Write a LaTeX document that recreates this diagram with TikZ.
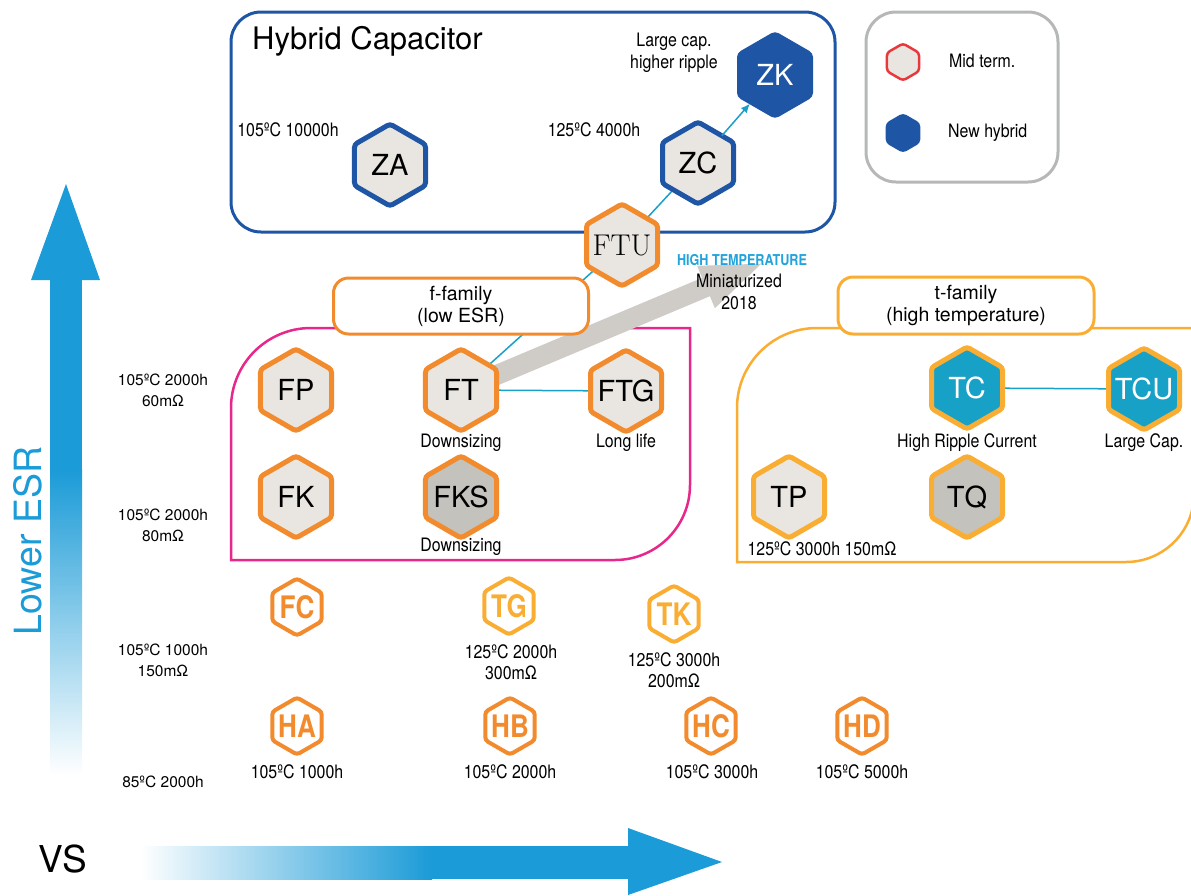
\documentclass[tikz,border=0pt]{standalone}
\usepackage{fontspec}
\usetikzlibrary{shapes.geometric,arrows.meta}
\newfontfamily\hv{TeX Gyre Heros}
\newfontfamily\hvc[FakeStretch=0.84]{TeX Gyre Heros}
\newfontfamily\hvcc[FakeStretch=0.86]{TeX Gyre Heros}
\definecolor{dkblue}{HTML}{1F55A5}
\definecolor{hexorange}{HTML}{F28B2D}
\definecolor{hexyellow}{HTML}{F9AE33}
\definecolor{hexfill}{HTML}{E9E6E1}
\definecolor{hexgray}{HTML}{C4C2BC}
\definecolor{tcfill}{HTML}{18A1C6}
\definecolor{arrowblue}{HTML}{1B9BD7}
\definecolor{linkblue}{HTML}{1A9FC9}
\definecolor{pinkbox}{HTML}{E8278A}
\definecolor{legendgray}{HTML}{B5B8B7}
\definecolor{bandgray}{HTML}{CFCCC7}
\definecolor{midred}{HTML}{E8383D}
\definecolor{hightemp}{HTML}{21A3DC}
\pgfdeclarelayer{bg}\pgfsetlayers{bg,main}
\tikzset{
  hexbase/.style={shape=regular polygon, regular polygon sides=6, regular polygon rotate=30,
    inner sep=0pt, outer sep=0pt, rounded corners=3pt},
  bighex/.style={hexbase, minimum size=82pt, line width=5pt, fill=hexfill},
  bigtext/.style={font=\hv\fontsize{29}{29}\selectfont, text=black},
  whitetext/.style={font=\hv\fontsize{29}{29}\selectfont, text=white},
  hexF/.style={bighex, draw=hexorange, label={[bigtext]center:#1}},
  hexFg/.style={bighex, draw=hexorange, fill=hexgray, label={[bigtext]center:#1}},
  hexT/.style={bighex, draw=hexyellow, label={[bigtext]center:#1}},
  hexTg/.style={bighex, draw=hexyellow, fill=hexgray, label={[bigtext]center:#1}},
  hexTc/.style={bighex, draw=hexyellow, fill=tcfill, label={[whitetext]center:#1}},
  hexZ/.style={bighex, draw=dkblue, label={[bigtext]center:#1}},
  hexZK/.style={bighex, draw=dkblue, fill=dkblue, label={[whitetext]center:#1}},
  hexFTU/.style={bighex, draw=hexorange, label={[font=\rmfamily\fontsize{30}{30}\selectfont]center:#1}},
  smallhex/.style={hexbase, minimum size=57pt, line width=4pt, fill=white},
  smallO/.style={smallhex, draw=hexorange, label={[font=\hvc\bfseries\fontsize{31}{31}\selectfont, text=hexorange]center:#1}},
  smallY/.style={smallhex, draw=hexyellow, label={[font=\hvc\bfseries\fontsize{31}{31}\selectfont, text=hexyellow]center:#1}},
  linkline/.style={draw=linkblue, line width=1.5pt},
  labelbox/.style={rectangle, rounded corners=15pt, minimum width=255pt, minimum height=56pt,
    fill=white, line width=3pt, align=center, font=\hv\fontsize{19.5}{22}\selectfont},
  cond/.style={font=\hvcc\fontsize{18.5}{21.5}\selectfont, align=center, inner sep=0pt},
  side/.style={font=\hv\fontsize{15.5}{21}\selectfont, align=center, inner sep=0pt},
}
\begin{document}
\begin{tikzpicture}[x=1pt,y=-1pt]
\useasboundingbox (0,0) rectangle (1191,895);

% ---- hexagons
\node[hexZ=ZA] (ZA) at (390,165) {};
\node[hexZ=ZC] (ZC) at (698,163) {};
\node[hexZK=ZK] (ZK) at (775,75) {};
\node[hexFTU=FTU] (FTU) at (622,245) {};
\node[hexF=FP] (FP) at (296,390) {};
\node[hexF=FT] (FT) at (461,390) {};
\node[hexF=FTG] (FTG) at (626,391) {};
\node[hexF=FK] (FK) at (296,497) {};
\node[hexFg=FKS] (FKS) at (461,497) {};
\node[hexTc=TC] (TC) at (967,388) {};
\node[hexTc=TCU] (TCU) at (1144,389) {};
\node[hexT=TP] (TP) at (789,497) {};
\node[hexTg=TQ] (TQ) at (967,497) {};
\node[smallO=FC] (FC) at (297,607) {};
\node[smallY=TG] (TG) at (509,606) {};
\node[smallY=TK] (TK) at (674,614) {};
\node[smallO=HA] (HA) at (297,726) {};
\node[smallO=HB] (HB) at (510,726) {};
\node[smallO=HC] (HC) at (711,726) {};
\node[smallO=HD] (HD) at (862,726) {};
\node[hexbase, minimum size=37pt, line width=2.5pt, draw=midred, fill=hexfill] (L1) at (903,62) {};
\node[hexbase, minimum size=37pt, line width=2.5pt, draw=dkblue, fill=dkblue] (L2) at (903,133) {};

\begin{pgfonlayer}{bg}
  % boxes
  \draw[dkblue, line width=3pt, rounded corners=30pt] (231,12) rectangle (835,232);
  \draw[legendgray, line width=3pt, rounded corners=30pt] (866,12) rectangle (1058,182);
  \draw[pinkbox, line width=2.5pt] (231,560) -- (231,408) arc[start angle=180, end angle=270, radius=80]
     -- (690,328) -- (690,485) arc[start angle=0, end angle=90, radius=75] -- cycle;
  \draw[hexyellow, line width=2.5pt] (737,562) -- (737,408) arc[start angle=180, end angle=270, radius=80]
     -- (1194,328) -- (1194,494) arc[start angle=0, end angle=90, radius=68] -- cycle;
  % links
  \draw[linkline] (FT) -- (FTU);
  \draw[linkline] (FTU) -- (ZC);
  \draw[linkline] (FT) -- (FTG);
  \draw[linkline] (TC) -- (TCU);
  % grey band
  \fill[bandgray] (457.1,380.8) -- (702.1,277.8) -- (697.1,265.8) -- (761.3,263.7)
     -- (714.9,308.2) -- (709.9,296.2) -- (464.9,399.2) -- cycle;
  % family labels
  \node[labelbox, draw=hexorange] (ffam) at (461,306) {f-family\\(low ESR)};
  \node[labelbox, draw=hexyellow, minimum width=256pt, minimum height=57pt] (tfam) at (966,305.5) {t-family\\(high temperature)};
\end{pgfonlayer}

\draw[linkline, -{Latex[length=9pt,width=8pt]}, shorten >=2pt] (ZC) -- (ZK);

% ---- axes arrows
\fill[arrowblue] (66,184) -- (100,280) -- (31,280) -- cycle;
\fill[arrowblue] (50,279) rectangle (82,470);
\shade[top color=arrowblue, bottom color=white] (50,469.5) rectangle (82,775);
\shade[left color=white, right color=arrowblue] (140,846) rectangle (432,879);
\fill[arrowblue] (431.5,846) rectangle (629,879);
\fill[arrowblue] (628,828) -- (722,862) -- (628,895) -- cycle;
\node[rotate=90, text=arrowblue, font=\hv\fontsize{37.5}{37.5}\selectfont, inner sep=0pt] (lesr) at (28,541) {Lower ESR};
\node[font=\hv\fontsize{37}{37}\selectfont, inner sep=0pt] (vs) at (63,859) {VS};

% ---- texts
\node[anchor=west, font=\hv\fontsize{31}{31}\selectfont, inner sep=0pt] (title) at (252,41) {Hybrid Capacitor};
\node[cond] (za) at (288,130) {105ºC 10000h};
\node[cond] (zc) at (594,130) {125ºC 4000h};
\node[cond] (zk) at (674,53) {Large cap.\\higher ripple};
\node[cond, anchor=west] (mid) at (949,61) {Mid term.};
\node[cond, anchor=west] (newh) at (948,133) {New hybrid};
\node[font=\hvc\bfseries\fontsize{15}{15}\selectfont, text=hightemp, inner sep=0pt] (ht) at (742,260) {HIGH TEMPERATURE};
\node[cond] (mini) at (739,292) {Miniaturized\\2018};
\node[cond] (d1) at (461,443) {Downsizing};
\node[cond] (d2) at (461,547) {Downsizing};
\node[cond] (ll) at (626,443) {Long life};
\node[cond] (hrc) at (967,443) {High Ripple Current};
\node[cond] (lc) at (1144,443) {Large Cap.};
\node[cond] (tp) at (822,549) {125ºC 3000h 150mΩ};
\node[cond] (tg) at (511,662) {125ºC 2000h\\300mΩ};
\node[cond] (tk) at (674,670) {125ºC 3000h\\200mΩ};
\node[cond] (ha) at (297,772) {105ºC 1000h};
\node[cond] (hb) at (510,772) {105ºC 2000h};
\node[cond] (hc) at (712,772) {105ºC 3000h};
\node[cond] (hd) at (862,772) {105ºC 5000h};
\node[side] (s1) at (163,390) {105ºC 2000h\\60mΩ};
\node[side] (s2) at (163,525) {105ºC 2000h\\80mΩ};
\node[side] (s3) at (163,660) {105ºC 1000h\\150mΩ};
\node[side] (s4) at (163,782) {85ºC 2000h};
\end{tikzpicture}
\end{document}
